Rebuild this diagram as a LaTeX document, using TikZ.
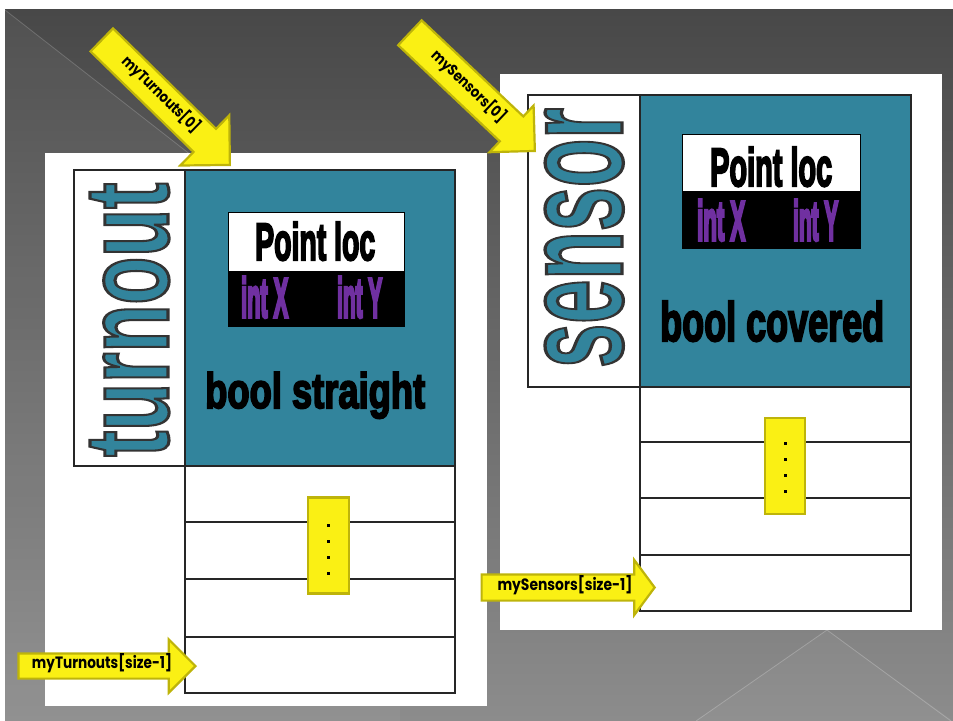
\documentclass[tikz,border=0pt]{standalone}
\usepackage{fontspec}
\usepackage{graphicx}
\setmainfont{Liberation Sans}
\newfontfamily\calloutfont{Poppins}
\usetikzlibrary{shapes.arrows}

\definecolor{bgtop}{RGB}{72,72,72}
\definecolor{bgmid}{RGB}{88,88,88}
\definecolor{bgbot}{RGB}{140,140,140}
\definecolor{structteal}{RGB}{50,132,156}
\definecolor{calloutfill}{RGB}{250,240,20}
\definecolor{calloutedge}{RGB}{190,180,10}
\definecolor{fieldpurple}{RGB}{112,48,160}

% glyphs filled and stroked: #1 stroke width, #2 stroke colour (r g b), #3 text
\newcommand{\strokedtext}[3]{\special{pdf:literal direct #1 w #2 RG 2 Tr}#3\special{pdf:literal direct 0 Tr}}
% heavy bold text squeezed into a given width and height
\newcommand{\fitbold}[6]{\resizebox{#1}{#2}{\fontsize{#3}{#3}\selectfont\bfseries\strokedtext{#4}{#5}{#6}}}
% outlined teal type name
\newcommand{\typename}[5]{\resizebox{#1}{#2}{\fontsize{#3}{#3}\selectfont\bfseries\color{structteal}\strokedtext{#4}{0.2 0.2 0.2}{#5}}}
% callout label set to a given width and height
\newcommand{\callouttext}[3]{\resizebox{#1}{#2}{\calloutfont\bfseries\fontsize{12}{12}\selectfont #3}}

\begin{document}
\begin{tikzpicture}[x=1bp,y=-1bp,
  frame/.style={draw=black!85, line width=1.2bp},
  callout/.style={single arrow, fill=calloutfill, draw=calloutedge,
    line width=2.2bp, inner xsep=0pt, anchor=tip, minimum width=0pt},
  calloutlabel/.style={inner sep=0pt, anchor=mid, text=black},
  boldtext/.style={inner sep=0pt, anchor=base west},
  fieldtext/.style={inner sep=0pt, anchor=base west, text=fieldpurple},
  dotsbox/.style={fill=calloutfill, draw=calloutedge, line width=2.2bp}
]
\useasboundingbox (0,0) rectangle (953,721);
\fill[white] (0,0) rectangle (953,721);

% slide background
\shade[top color=bgtop, middle color=bgmid, bottom color=bgbot] (5,10) rectangle (953,721);
\fill[white, opacity=0.05] (5,10) -- (400,318) -- (400,721) -- (5,721) -- cycle;
\draw[white, opacity=0.18, line width=0.8bp] (5,10) -- (200,162);
\fill[white, opacity=0.04] (827,630) -- (696,721) -- (953,721) -- cycle;
\draw[white, opacity=0.22, line width=0.8bp] (696,721) -- (827,630) -- (951,721);

% white panels
\fill[white] (45,153) rectangle (487,706);
\fill[white] (500,74) rectangle (942,630);

% ---------- turnout struct ----------
\draw[frame, fill=white] (74,170) rectangle (185,466);
\draw[frame, fill=structteal] (185,170) rectangle (455,466);
\node[boldtext, rotate=90] (tname) at (168,457) {\typename{274bp}{78bp}{100}{2.6}{turnout}};

\fill[white] (228,212) rectangle (404,271);
\fill[black] (228,271) rectangle (404,326);
\draw[black, line width=1bp] (228,212) rectangle (404,326);
\node[boldtext] (tloc) at (255,260) {\fitbold{120bp}{38bp}{40}{1.8}{0 0 0}{Point loc}};
\node[fieldtext] (tx) at (241,317) {\fitbold{47bp}{40bp}{40}{2.8}{0.44 0.19 0.63}{int X}};
\node[fieldtext] (ty) at (337,317) {\fitbold{45bp}{40bp}{40}{2.8}{0.44 0.19 0.63}{int Y}};
\node[boldtext] (tstraight) at (205,408) {\fitbold{220bp}{36bp}{40}{1.6}{0 0 0}{bool straight}};

% turnout array slots
\draw[frame] (185,466) rectangle (455,693);
\foreach \yy in {522,579,637} \draw[frame] (185,\yy) -- (455,\yy);
\node[dotsbox, minimum width=41bp, minimum height=96bp, inner sep=0pt] (tdots) at (328.5,545.5) {};
\foreach \yy in {525,541,557,573} \fill (326.5,\yy-1.5) rectangle +(3,3);

% ---------- sensor struct ----------
\draw[frame, fill=white] (528,95) rectangle (640,387);
\draw[frame, fill=structteal] (640,95) rectangle (911,387);
\node[boldtext, rotate=90] (sname) at (622,368) {\typename{260bp}{77bp}{100}{2.3}{sensor}};

\fill[white] (682,135) rectangle (860,191);
\fill[black] (682,191) rectangle (860,248);
\draw[black, line width=1bp] (682,135) rectangle (860,248);
\node[boldtext] (sloc) at (710,186) {\fitbold{122bp}{39bp}{40}{1.8}{0 0 0}{Point loc}};
\node[fieldtext] (sx) at (697,240) {\fitbold{48bp}{40bp}{40}{2.8}{0.44 0.19 0.63}{int X}};
\node[fieldtext] (sy) at (793,240) {\fitbold{45bp}{40bp}{40}{2.8}{0.44 0.19 0.63}{int Y}};
\node[boldtext] (scovered) at (660,341) {\fitbold{224bp}{40bp}{40}{1.6}{0 0 0}{bool covered}};

% sensor array slots
\draw[frame] (640,387) rectangle (911,611);
\foreach \yy in {442,498,555} \draw[frame] (640,\yy) -- (911,\yy);
\node[dotsbox, minimum width=40bp, minimum height=96bp, inner sep=0pt] (sdots) at (785,466) {};
\foreach \yy in {443,459,475,491} \fill (783.5,\yy-1.5) rectangle +(3,3);

% ---------- callouts ----------
\node[callout, rotate=-44.3, minimum height=179bp, inner ysep=15bp,
      single arrow head extend=19bp, single arrow tip angle=90] (firstturnout) at (231,166) {};
\node[calloutlabel, rotate=-44.3] (firstturnoutlabel) at (159.3,96) {\callouttext{102bp}{14bp}{myTurnouts[0]}};

\node[callout, rotate=-43.4, minimum height=172bp, inner ysep=16bp,
      single arrow head extend=15bp, single arrow tip angle=90] (firstsensor) at (536,152) {};
\node[calloutlabel, rotate=-43.4] (firstsensorlabel) at (467,88) {\callouttext{96bp}{14bp}{mySensors[0]}};

\node[callout, minimum height=177bp, inner ysep=11.5bp,
      single arrow head extend=14bp, single arrow tip angle=90] (lastturnout) at (197,666) {};
\node[calloutlabel] (lastturnoutlabel) at (102,666) {\callouttext{140bp}{15bp}{myTurnouts[size-1]}};

\node[callout, minimum height=173bp, inner ysep=12bp,
      single arrow head extend=14.5bp, single arrow tip angle=107] (lastsensor) at (656,587.5) {};
\node[calloutlabel] (lastsensorlabel) at (565,587.5) {\callouttext{135bp}{15bp}{mySensors[size-1]}};
\end{tikzpicture}
\end{document}
